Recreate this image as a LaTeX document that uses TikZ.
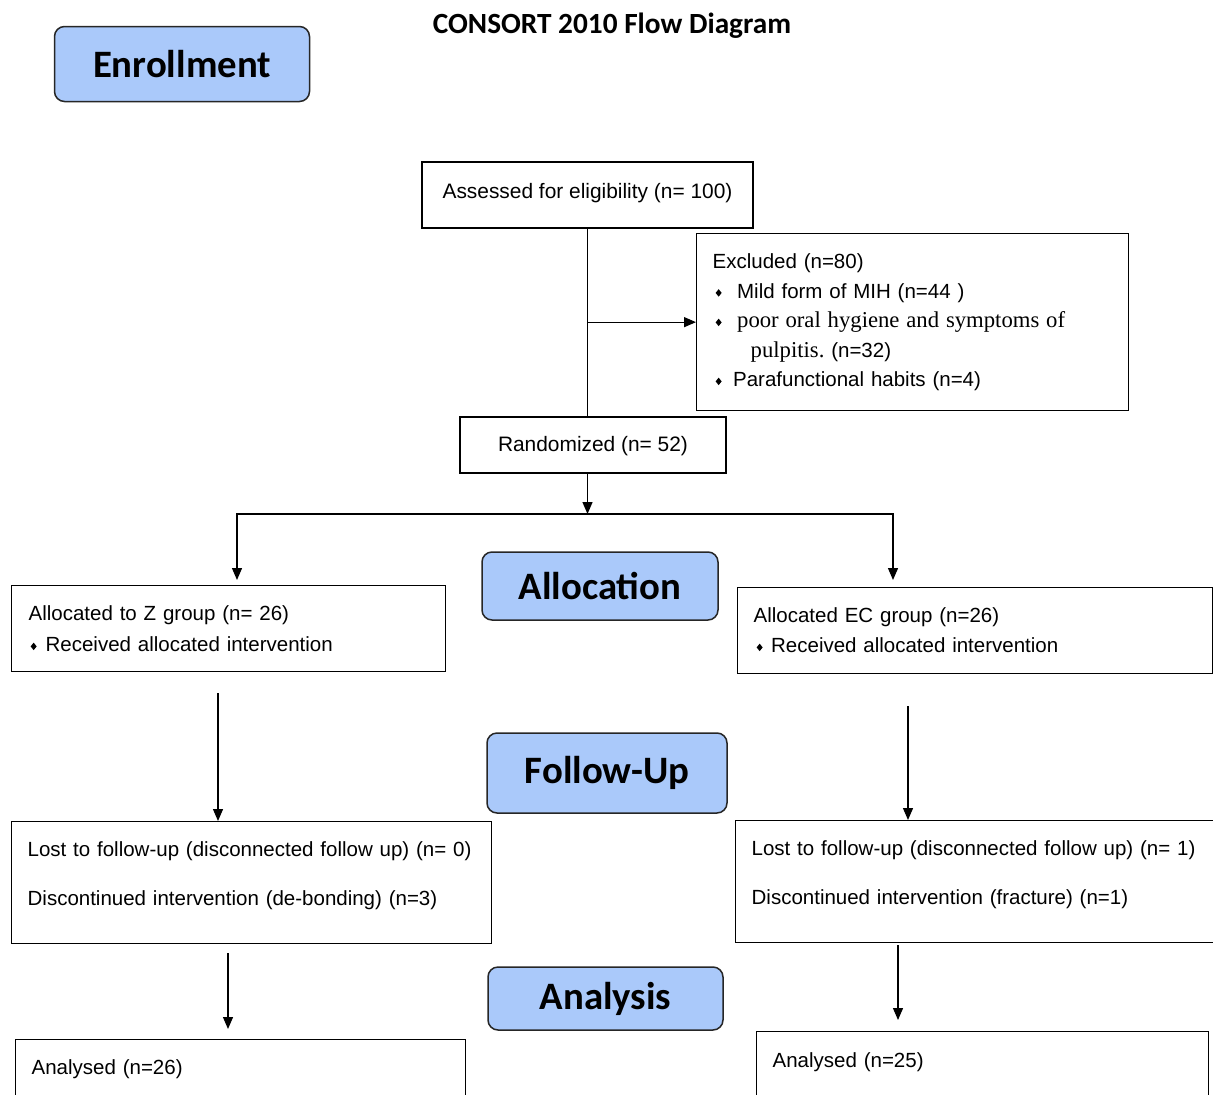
\documentclass[tikz,border=0pt]{standalone}
\usepackage{fontspec}
\usetikzlibrary{arrows.meta, positioning}
\newfontfamily\arialfont{Liberation Sans}
\newfontfamily\timesfont{Liberation Serif}
\newfontfamily\calfont{Carlito}
\definecolor{phaseblue}{RGB}{170,201,250}
\newcommand{\bul}{\raisebox{1.5pt}{\scalebox{0.8}[1]{\rotatebox{45}{\rule{5.3pt}{5.3pt}}}}}
\newcommand{\serifpart}[1]{{\timesfont\fontsize{22.7}{29}\selectfont #1}}
\frenchspacing

\begin{document}
\begin{tikzpicture}[x=1pt, y=-1pt,
    phase/.style={rectangle, rounded corners=10pt, draw=black!85, line width=1.5pt,
                  fill=phaseblue, inner sep=0pt,
                  font=\calfont\bfseries\fontsize{38.8}{44}\selectfont},
    cbox/.style={rectangle, draw, line width=1.3pt, inner sep=0pt,
                 font=\arialfont\fontsize{20.9}{29}\selectfont},
    box/.style={rectangle, draw, line width=1.3pt, anchor=north west,
                inner xsep=16pt, inner ysep=0pt, align=left,
                font=\arialfont\fontsize{20.5}{29.5}\selectfont},
    link/.style={line width=1.3pt},
    arr/.style={line width=1.3pt, -{Triangle[length=12pt,width=10pt]}}]

  \useasboundingbox (0,0) rectangle (1213,1095);
  \clip (0,0) rectangle (1213,1095);

  \node[font=\calfont\bfseries\fontsize{29.3}{34}\selectfont, anchor=base]
      (title) at (612,33) {CONSORT 2010 Flow Diagram};

  % phase labels
  \node[phase, minimum width=255, minimum height=75] (enrol)  at (182,64)     {Enrollment};
  \node[phase, minimum width=236, minimum height=68] (alloc)  at (600,586)    {Allocation};
  \node[phase, minimum width=240, minimum height=80] (follow) at (607,773)    {Follow-Up};
  \node[phase, minimum width=235, minimum height=63] (analys) at (605.5,998.5) {Analysis};

  % enrollment
  \node[cbox, minimum width=331, minimum height=66, text height=15, text depth=8]
      (assess) at (587.5,195) {Assessed for eligibility (n= 100)};
  \node[box, text width=400, text height=35, text depth=142] (excl) at (696,233)
      {Excluded (n=80)\\
       \hspace*{3pt}\bul\hspace{15.5pt}Mild form of MIH (n=44 )\\
       \hspace*{3pt}\bul\hspace{15.5pt}\serifpart{poor oral hygiene and symptoms of}\\
       \hspace*{38pt}\serifpart{pulpitis.} (n=32)\\
       \hspace*{3pt}\bul\hspace{11.5pt}Parafunctional habits (n=4)};
  \node[cbox, minimum width=266, minimum height=56, text height=15, text depth=2]
      (rand) at (593,445) {Randomized (n= 52)};

  % allocation
  \node[box, inner xsep=17pt, text width=400, text height=35, text depth=51,
        font=\arialfont\fontsize{20.5}{31}\selectfont] (zgrp) at (11,585)
      {Allocated to Z group (n= 26)\\
       \hspace*{2pt}\bul\hspace{9pt}Received allocated intervention};
  \node[box, text width=443, text height=35, text depth=51,
        font=\arialfont\fontsize{20.5}{30}\selectfont] (ecgrp) at (737,587)
      {Allocated EC group (n=26)\\
       \hspace*{3pt}\bul\hspace{8.5pt}Received allocated intervention};

  % follow-up
  \node[box, text width=448, text height=35, text depth=87,
        font=\arialfont\fontsize{20.5}{49}\selectfont] (lostz) at (11,821)
      {\mbox{Lost to follow-up (disconnected follow up) (n= 0)}\\
       Discontinued intervention (de-bonding) (n=3)};
  \node[box, text width=446, text height=35, text depth=87,
        font=\arialfont\fontsize{20.5}{49}\selectfont] (lostec) at (735,820)
      {\mbox{Lost to follow-up (disconnected follow up) (n= 1)}\\
       Discontinued intervention (fracture) (n=1)};

  % analysis
  \node[box, text width=418, text height=35, text depth=55] (anaz)  at (15,1039)
      {Analysed (n=26)};
  \node[box, text width=420, text height=36, text depth=54] (anaec) at (756,1031)
      {Analysed (n=25)};

  \coordinate (split)  at (587.5,514);
  \coordinate (zin)    at (237,580);
  \coordinate (ecin)   at (893,580);
  \coordinate (zdown)  at (218,693);
  \coordinate (ecdown) at (908,706);
  \coordinate (zlast)  at (228,953);
  \coordinate (eclast) at (898,945);

  \draw[link] (assess.south) -- (assess.south |- rand.north);
  \draw[arr] (assess.south |- excl.west) -- (excl.west);
  \draw[arr] (assess.south |- rand.south) -- (split);
  \draw[arr] (split) -| (zin);
  \draw[arr] (split) -| (ecin);
  \draw[arr] (zdown) -- (zdown |- lostz.north);
  \draw[arr] (ecdown) -- (ecdown |- lostec.north);
  \draw[arr, shorten >=10pt] (zlast) -- (zlast |- anaz.north);
  \draw[arr, shorten >=11pt] (eclast) -- (eclast |- anaec.north);
\end{tikzpicture}
\end{document}
